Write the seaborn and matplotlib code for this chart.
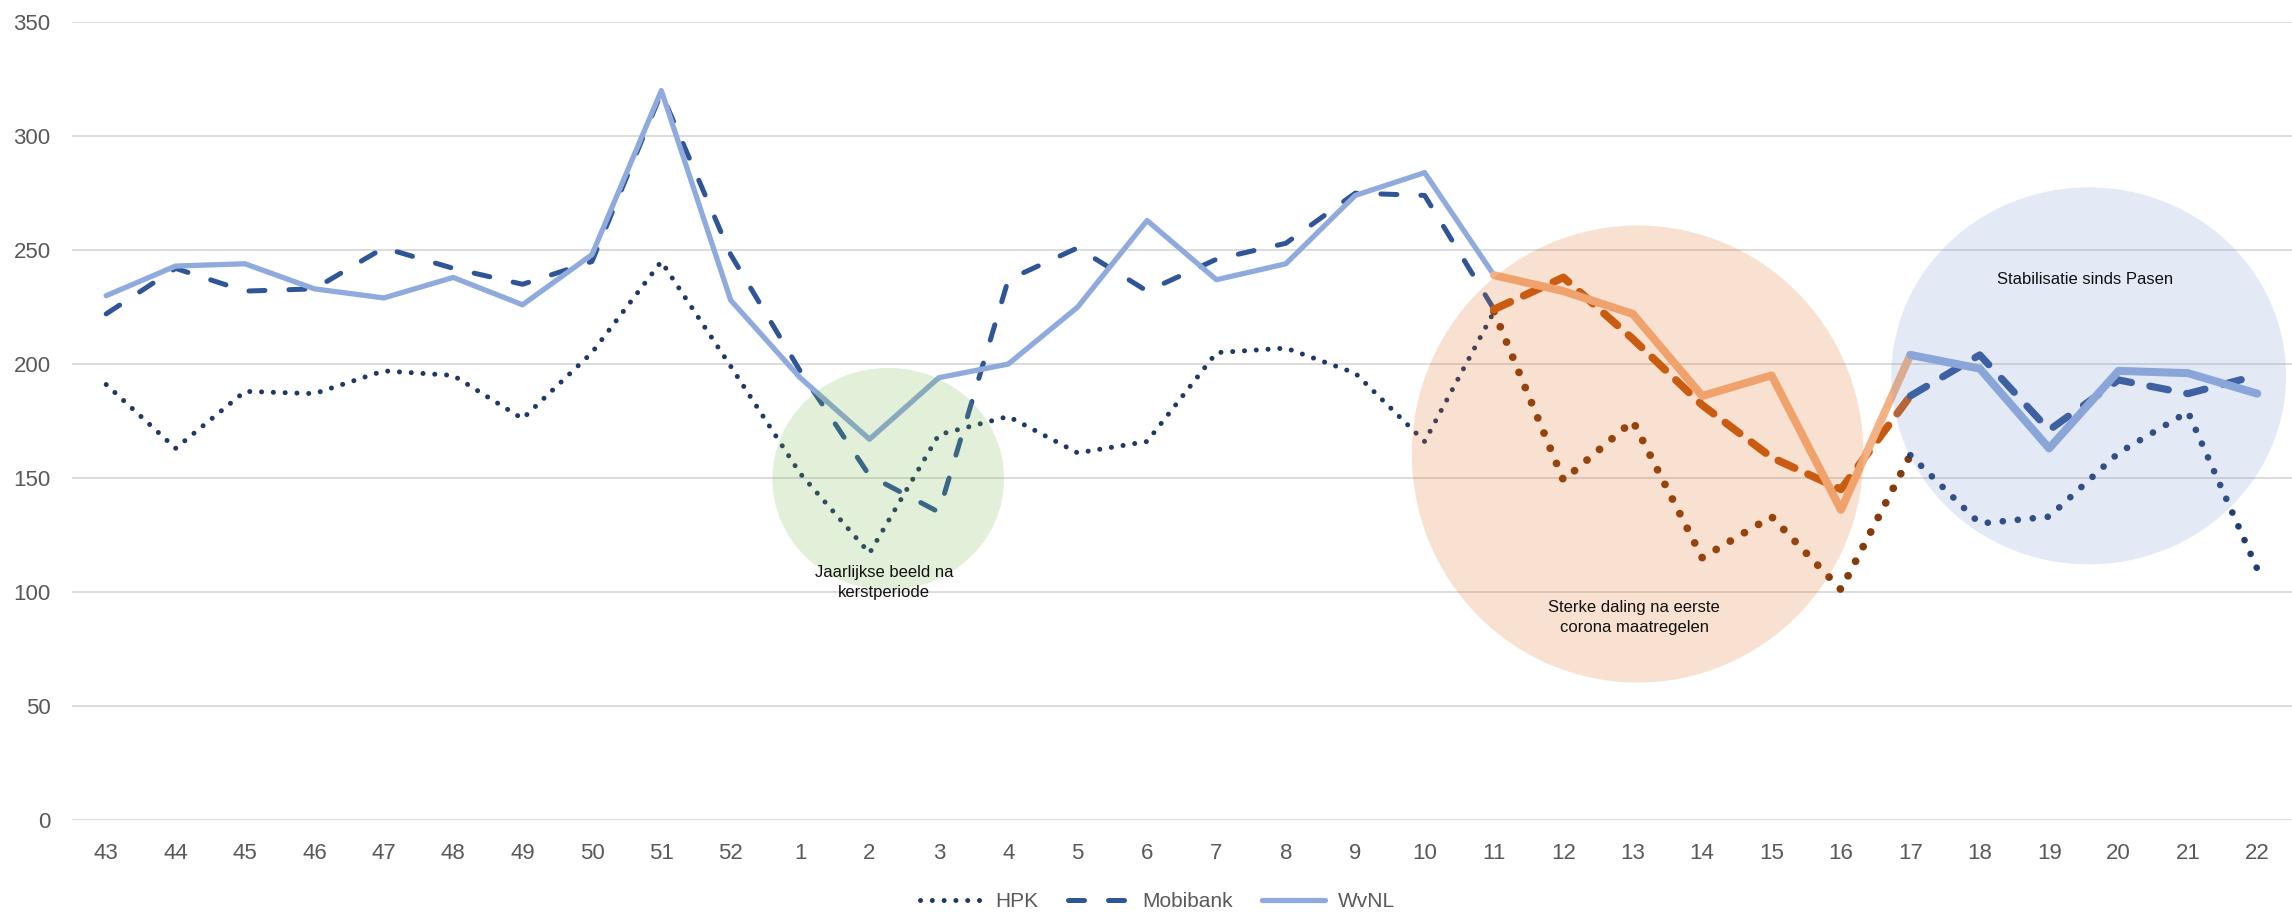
import matplotlib
matplotlib.use("Agg")
import matplotlib.pyplot as plt
from matplotlib.patches import Ellipse
import pandas as pd
import seaborn as sns

# Weeks (week 43 of 2019 up to week 22 of 2020)
weeks = [43, 44, 45, 46, 47, 48, 49, 50, 51, 52,
         1, 2, 3, 4, 5, 6, 7, 8, 9, 10,
         11, 12, 13, 14, 15, 16, 17, 18, 19, 20, 21, 22]

hpk = [191, 163, 188, 187, 197, 195, 176, 205, 245, 199,
       152, 117, 169, 177, 161, 166, 205, 207, 196, 166,
       223, 149, 175, 115, 133, 101, 160, 130, 133, 161, 179, 110]

mobibank = [222, 242, 232, 233, 251, 242, 235, 245, 319, 248,
            197, 151, 135, 237, 251, 232, 246, 253, 275, 274,
            224, 238, 211, 182, 159, 145, 186, 204, 171, 193, 187, 195]

wvnl = [230, 243, 244, 233, 229, 238, 226, 248, 320, 228,
        194, 167, 194, 200, 225, 263, 237, 244, 274, 284,
        239, 232, 222, 186, 195, 136, 204, 198, 163, 197, 196, 187]

df = pd.DataFrame({
    'pos': range(len(weeks)),
    'week': [str(w) for w in weeks],
    'HPK': hpk,
    'Mobibank': mobibank,
    'WvNL': wvnl,
})

sns.set_theme(style='white')
plt.rcParams['font.family'] = ['Liberation Sans', 'DejaVu Sans']

fig = plt.figure(figsize=(22.92, 9.16), dpi=100)
ax = fig.add_axes([0.0312, 0.1051, 0.9688, 0.8706])

# three periods: normal, corona drop (week 11-17), after Easter (week 17-22)
i11 = weeks.index(11)
i17 = weeks.index(17)
periods = {'base': (0, i11), 'corona': (i11, i17), 'pasen': (i17, len(weeks) - 1)}

styles = {
    'HPK': {
        'base': dict(color='#203864', linewidth=3.6, linestyle=(0, (0.01, 2.35))),
        'corona': dict(color='#843c0c', linewidth=5.6, linestyle=(0, (0.01, 2.1))),
        'pasen': dict(color='#203d74', linewidth=4.8, linestyle=(0, (0.01, 2.25))),
    },
    'Mobibank': {
        'base': dict(color='#2f5597', linewidth=3.6, linestyle=(0, (3.2, 4.8))),
        'corona': dict(color='#c55a11', linewidth=5.6, linestyle=(0, (2.3, 1.9))),
        'pasen': dict(color='#2f5597', linewidth=5.2, linestyle=(0, (2.6, 2.6))),
    },
    'WvNL': {
        'base': dict(color='#8faadc', linewidth=3.8, linestyle='-'),
        'corona': dict(color='#f4b183', linewidth=5.8, linestyle='-'),
        'pasen': dict(color='#8faadc', linewidth=5.8, linestyle='-'),
    },
}

for z, name in enumerate(['HPK', 'Mobibank', 'WvNL']):
    for period, (a, b) in periods.items():
        sns.lineplot(data=df.iloc[a:b + 1], x='pos', y=name, ax=ax,
                     errorbar=None, legend=False,
                     dash_capstyle='round', solid_capstyle='round',
                     solid_joinstyle='round', dash_joinstyle='round',
                     label=name if period == 'base' else '_nolegend_',
                     zorder=2 + z, **styles[name][period])

# highlighted periods
circles = [
    ((11.27, 149.6), 3.34, 97.4, '#6eaf41'),
    ((22.07, 160.5), 6.51, 200.6, '#e16919'),
    ((28.57, 194.8), 5.69, 165.5, '#7896cd'),
]
for (cx, cy), w, h, c in circles:
    ax.add_patch(Ellipse((cx, cy), w, h, facecolor=c, edgecolor='none',
                         alpha=0.2, zorder=6))

notes = [
    (11.21, 104.2, 'Jaarlijkse beeld na\nkerstperiode'),
    (22.02, 88.7, 'Sterke daling na eerste\ncorona maatregelen'),
    (28.52, 236.9, 'Stabilisatie sinds Pasen'),
]
for x, y, s in notes:
    ax.text(x, y, s, ha='center', va='center', fontsize=12,
            color='#111111', linespacing=1.45, zorder=7)

ax.set_xlim(-0.5, len(weeks) - 0.5)
ax.set_ylim(0, 350)
ax.set_xticks(df['pos'])
ax.set_xticklabels(df['week'])
ax.set_yticks(range(0, 351, 50))
ax.set_xlabel('')
ax.set_ylabel('')
ax.yaxis.grid(True, color='#d9d9d9', linewidth=1.3)
ax.xaxis.grid(False)
ax.set_axisbelow(True)
ax.tick_params(length=0, labelsize=16, labelcolor='#595959')
ax.tick_params(axis='x', pad=17)
ax.tick_params(axis='y', pad=15)
sns.despine(ax=ax, left=True, bottom=True)

handles, labels = ax.get_legend_handles_labels()
fig.legend(handles, labels, loc='center', bbox_to_anchor=(0.505, 0.0153),
           ncol=3, frameon=False, fontsize=15, handlelength=3.0,
           handletextpad=0.6, columnspacing=1.4, labelcolor='#595959')

fig.savefig('out.png', dpi=100)
